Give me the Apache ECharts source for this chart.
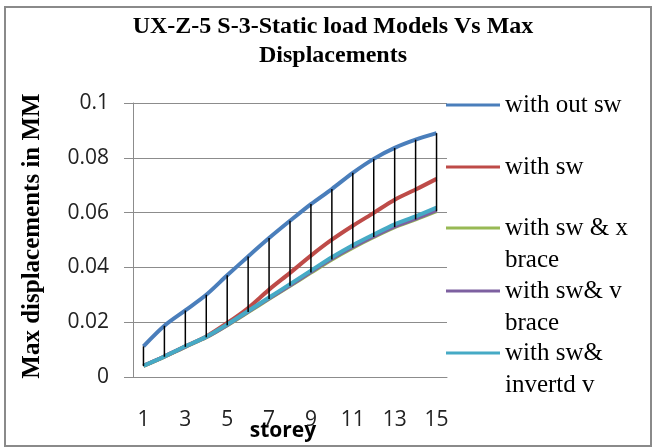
<!DOCTYPE html>
<html>
<head>
<meta charset="utf-8">
<style>
  html, body { margin: 0; padding: 0; background: #fff; }
  #chart { width: 656px; height: 448px; }
</style>
<script src="https://cdn.jsdelivr.net/npm/echarts@6/dist/echarts.min.js"></script>
</head>
<body>
<div id="chart"></div>
<script>
// Storey numbers along the category axis
var storeys = ['1','2','3','4','5','6','7','8','9','10','11','12','13','14','15'];

// Maximum displacement (mm) per storey for each model
var withOutSw      = [0.0112, 0.0187, 0.0243, 0.0300, 0.0371, 0.0440, 0.0507, 0.0570, 0.0631, 0.0686, 0.0745, 0.0796, 0.0836, 0.0866, 0.0890];
var withSw         = [0.0041, 0.0075, 0.0112, 0.0148, 0.0197, 0.0252, 0.0319, 0.0380, 0.0443, 0.0501, 0.0552, 0.0599, 0.0647, 0.0684, 0.0723];
var withSwXBrace   = [0.0040, 0.0074, 0.0110, 0.0145, 0.0189, 0.0237, 0.0285, 0.0333, 0.0381, 0.0429, 0.0472, 0.0511, 0.0547, 0.0575, 0.0605];
var withSwVBrace   = [0.0041, 0.0075, 0.0111, 0.0146, 0.0190, 0.0239, 0.0287, 0.0335, 0.0384, 0.0432, 0.0475, 0.0514, 0.0550, 0.0578, 0.0609];
var withSwInvertdV = [0.0041, 0.0075, 0.0112, 0.0147, 0.0192, 0.0241, 0.0290, 0.0339, 0.0388, 0.0437, 0.0481, 0.0520, 0.0557, 0.0586, 0.0618];

// Y-axis scale
var yMin = 0, yMax = 0.1, yStep = 0.02;

var seriesNames = ['with out sw', 'with sw', 'with sw & x brace', 'with sw& v brace', 'with sw& invertd v'];
var legendText  = ['with out sw', 'with sw', '\nwith sw & x\nbrace', '\nwith sw& v\nbrace', '\nwith sw&\ninvertd v'];
var seriesData  = [withOutSw, withSw, withSwXBrace, withSwVBrace, withSwInvertdV];
var colors      = ['#4A7EBB', '#BE4B48', '#98B954', '#7D60A0', '#46AAC5'];
var legendTops  = [89, 151, 180, 243, 305];

// High-low span per storey (top and bottom of all models)
var spans = storeys.map(function (s, i) {
  var vals = seriesData.map(function (d) { return d[i]; });
  return [i, Math.max.apply(null, vals), Math.min.apply(null, vals)];
});

var chart = echarts.init(document.getElementById('chart'), null, { renderer: 'canvas' });

var lineSeries = seriesNames.map(function (name, k) {
  return {
    name: name,
    type: 'line',
    data: seriesData[k],
    smooth: 0.3,
    showSymbol: false,
    symbol: 'none',
    lineStyle: { color: colors[k], width: 4 },
    itemStyle: { color: colors[k] },
    z: 3 + k,
    animation: false
  };
});

var legends = seriesNames.map(function (name, k) {
  return {
    data: [name],
    left: 446,
    top: legendTops[k],
    padding: 0,
    icon: 'rect',
    itemWidth: 54,
    itemHeight: 3,
    selectedMode: false,
    formatter: function () { return legendText[k]; },
    textStyle: {
      fontFamily: 'Liberation Serif',
      fontSize: 25,
      lineHeight: 32,
      color: '#000'
    }
  };
});

var option = {
  backgroundColor: '#fff',
  animation: false,
  title: {
    text: 'UX-Z-5 S-3-Static load Models Vs Max\nDisplacements',
    left: 333,
    top: 12,
    padding: 0,
    textAlign: 'center',
    textStyle: {
      fontFamily: 'Liberation Serif',
      fontWeight: 'bold',
      fontSize: 24,
      lineHeight: 29,
      color: '#000'
    }
  },
  legend: legends,
  grid: {
    left: 133, right: 209, top: 103, bottom: 71,
    containLabel: false,
    outerBoundsMode: 'none'
  },
  xAxis: {
    type: 'category',
    data: storeys,
    boundaryGap: true,
    name: 'storey',
    nameLocation: 'middle',
    nameGap: 44,
    nameMoveOverlap: false,
    nameTextStyle: {
      fontFamily: 'Open Sans',
      fontWeight: 'bold',
      fontSize: 21,
      color: '#000',
      padding: [0, 14, 0, 0]
    },
    axisLine: { lineStyle: { color: '#8c8c8c', width: 1 } },
    axisTick: { show: false },
    axisLabel: {
      interval: 1,
      margin: 33,
      fontFamily: 'Open Sans',
      fontSize: 21,
      color: '#222'
    },
    splitLine: { show: false }
  },
  yAxis: {
    type: 'value',
    min: yMin,
    max: yMax,
    interval: yStep,
    name: 'Max displacements in MM',
    nameLocation: 'middle',
    nameRotate: 90,
    nameGap: 88,
    nameTextStyle: {
      fontFamily: 'Liberation Serif',
      fontWeight: 'bold',
      fontSize: 25,
      color: '#000',
      padding: [0, 0, 0, 8]
    },
    axisLine: { show: true, lineStyle: { color: '#8c8c8c', width: 1 } },
    axisTick: { show: true, length: 9, inside: false, lineStyle: { color: '#8c8c8c' } },
    axisLabel: {
      margin: 24,
      fontFamily: 'Open Sans',
      fontSize: 21,
      color: '#222'
    },
    splitLine: { show: true, lineStyle: { color: '#8c8c8c', width: 1 } }
  },
  graphic: [{
    type: 'rect',
    shape: { x: 5, y: 7, width: 646, height: 439 },
    style: { fill: 'none', stroke: '#8a8a8a', lineWidth: 2 },
    silent: true,
    z: 100
  }],
  series: lineSeries.concat([{
    name: 'high-low',
    type: 'custom',
    data: spans,
    z: 20,
    renderItem: function (params, api) {
      var top = api.coord([api.value(0), api.value(1)]);
      var bot = api.coord([api.value(0), api.value(2)]);
      return {
        type: 'line',
        shape: { x1: top[0], y1: top[1], x2: bot[0], y2: bot[1] },
        style: { stroke: '#000', lineWidth: 1.5 }
      };
    },
    encode: { x: 0, y: [1, 2] },
    silent: true
  }])
};

chart.setOption(option);
</script>
</body>
</html>
